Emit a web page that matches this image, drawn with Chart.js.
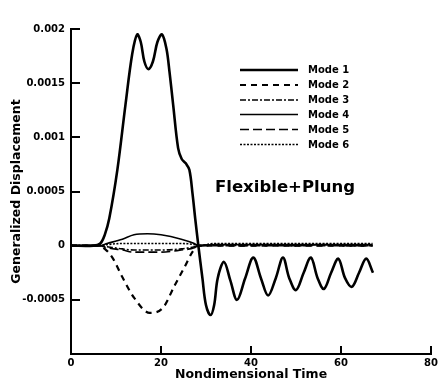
<!DOCTYPE html>
<html><head><meta charset="utf-8">
<script src="https://cdn.jsdelivr.net/npm/chart.js@4.4.0/dist/chart.umd.min.js"></script>
<style>html,body{margin:0;padding:0;background:#fff}</style>
</head><body>
<canvas id="c" width="441" height="383"></canvas>
<script>
// ---- data ----
const modeLabels = ['Mode 1', 'Mode 2', 'Mode 3', 'Mode 4', 'Mode 5', 'Mode 6'];

const mode1T = [0, 5, 6.5, 7.5, 8.5, 10.3, 12.1, 13.6, 14.7, 15.5, 16.3, 17.2, 18.2, 19.2, 20.2, 21.2, 21.9, 22.7, 23.8, 24.6, 25.5, 26.3, 27.0, 27.6, 28.3, 29.2, 30.0, 31.0, 31.8, 32.6, 34.0, 35.4, 36.9, 38.7, 40.5, 42.2, 43.8, 45.5, 47.1, 48.5, 50.0, 51.7, 53.3, 54.8, 56.2, 57.8, 59.4, 60.9, 62.4, 64.0, 65.6, 67.1];
const mode1V = [0, 0, 0.00002, 0.0001, 0.00025, 0.0007, 0.0013, 0.00177, 0.00195, 0.00188, 0.0017, 0.00163, 0.0017, 0.00188, 0.00195, 0.00182, 0.0016, 0.0013, 0.0009, 0.0008, 0.00076, 0.0007, 0.00048, 0.00025, 0, -0.0003, -0.00055, -0.00064, -0.00055, -0.0003, -0.00015, -0.00032, -0.0005, -0.0003, -0.00011, -0.0003, -0.00046, -0.0003, -0.00011, -0.0003, -0.00041, -0.00025, -0.00011, -0.0003, -0.0004, -0.00025, -0.00012, -0.0003, -0.00038, -0.00025, -0.00012, -0.00025];

const mode2T = [0, 6, 7.5, 9.2, 11.4, 14.0, 17.5, 20.5, 23.0, 25.2, 27.1, 28.3, 35, 45, 55, 67];
const mode2V = [0, 0, -0.00003, -0.00011, -0.00029, -0.00048, -0.00062, -0.00057, -0.00037, -0.0002, -0.00005, 0, 0, 0, 0, 0];

const smallT = [0, 6.3, 8, 11.4, 14, 17, 20, 24.5, 27.4, 28.3, 32, 38, 44, 50, 56, 62, 67];
const mode3V = [0, 0, -0.00001, -0.00003, -0.00004, -0.00004, -0.00004, -0.00003, -0.00001, 0, 0.00001, 0, 0.00001, 0, 0.00001, 0, 0];
const mode4V = [0, 0, 0.00002, 0.00006, 0.0001, 0.00011, 0.0001, 0.00006, 0.00002, 0, 0.00001, 0.00001, 0.00001, 0.00001, 0.00001, 0.00001, 0.00001];
const mode5V = [0, 0, -0.00002, -0.00004, -0.00006, -0.00006, -0.00006, -0.00004, -0.00002, 0, 0, 0, 0, 0, 0, 0, 0];
const mode6V = [0, 0, 0.00001, 0.00002, 0.00002, 0.00002, 0.00002, 0.00002, 0.00001, 0, 0.00002, 0.00002, 0.00002, 0.00002, 0.00002, 0.00002, 0.00002];

const xTickValues = [0, 20, 40, 60, 80];
const yTickLabels = ['', '-0.0005', '0', '0.0005', '0.001', '0.0015', '0.002'];
const annotationText = 'Flexible+Plung';

// ---- chart ----
const FONT = 'DejaVu Sans';
Chart.defaults.font.family = FONT;
Chart.defaults.font.weight = 'bold';
Chart.defaults.color = '#000';

function pts(t, v) { return t.map((x, i) => ({x: x, y: v[i]})); }

const styles = [
  {borderWidth: 2.6, borderDash: [], interp: 'default'},
  {borderWidth: 2.2, borderDash: [6, 5], interp: 'monotone'},
  {borderWidth: 1.6, borderDash: [6, 2, 2, 2], interp: 'monotone'},
  {borderWidth: 1.6, borderDash: [], interp: 'monotone'},
  {borderWidth: 1.6, borderDash: [9, 4], interp: 'monotone'},
  {borderWidth: 1.6, borderDash: [2, 1.5], interp: 'monotone'}
];
const series = [pts(mode1T, mode1V), pts(mode2T, mode2V), pts(smallT, mode3V), pts(smallT, mode4V), pts(smallT, mode5V), pts(smallT, mode6V)];

const datasets = series.map((d, i) => ({
  label: modeLabels[i],
  data: d,
  borderColor: '#000',
  backgroundColor: '#000',
  borderWidth: styles[i].borderWidth,
  borderDash: styles[i].borderDash,
  pointRadius: 0,
  fill: false,
  tension: 0.35,
  cubicInterpolationMode: styles[i].interp
})).reverse();

const decor = {
  id: 'decor',
  afterDraw(chart) {
    const ctx = chart.ctx;
    const xs = chart.scales.x, ys = chart.scales.y;
    ctx.save();
    ctx.strokeStyle = '#000';
    ctx.lineWidth = 2;
    ctx.setLineDash([]);
    // inward ticks
    xTickValues.forEach(v => {
      if (v === xs.min) return;
      const px = Math.round(xs.getPixelForValue(v));
      ctx.beginPath(); ctx.moveTo(px, ys.bottom); ctx.lineTo(px, ys.bottom - 8); ctx.stroke();
    });
    ys.ticks.forEach((t, i) => {
      if (i === 0) return;
      const py = Math.round(ys.getPixelForValue(t.value));
      ctx.beginPath(); ctx.moveTo(xs.left, py); ctx.lineTo(xs.left + 9, py); ctx.stroke();
    });
    // legend
    const ordered = chart.data.datasets.slice().reverse();
    const rowY = [70, 85, 100, 114.5, 129.5, 144.5];
    ctx.font = 'bold 10px ' + FONT;
    ctx.fillStyle = '#000';
    ctx.textBaseline = 'middle';
    ctx.textAlign = 'left';
    ordered.forEach((ds, i) => {
      ctx.lineWidth = ds.borderWidth;
      ctx.setLineDash(ds.borderDash || []);
      ctx.beginPath(); ctx.moveTo(240, rowY[i]); ctx.lineTo(298, rowY[i]); ctx.stroke();
      ctx.setLineDash([]);
      ctx.fillText(ds.label, 308, rowY[i] + 0.5);
    });
    // annotation
    ctx.font = 'bold 16.5px ' + FONT;
    ctx.fillText(annotationText, 215, 188);
    ctx.restore();
  }
};

new Chart(document.getElementById('c'), {
  type: 'line',
  data: {datasets: datasets},
  options: {
    responsive: false,
    animation: false,
    devicePixelRatio: 1,
    layout: {padding: {top: 29, right: 5, left: 0, bottom: 0}},
    plugins: {legend: {display: false}, tooltip: {enabled: false}},
    scales: {
      x: {
        type: 'linear', min: 0, max: 80,
        afterBuildTicks(s) { s.ticks = xTickValues.map(v => ({value: v})); },
        afterFit(s) { s.height = 29; },
        grid: {display: false, drawTicks: false},
        border: {display: true, color: '#000', width: 2},
        ticks: {padding: 3, font: {size: 10, weight: 'bold'}, color: '#000', maxRotation: 0},
        title: {display: true, text: 'Nondimensional Time', font: {size: 12.5, weight: 'bold'}, color: '#000', padding: {top: 0, bottom: 0.5}}
      },
      y: {
        type: 'linear', min: -0.001, max: 0.002,
        afterFit(s) { s.width = 71; },
        grid: {display: false, drawTicks: false},
        border: {display: true, color: '#000', width: 2},
        ticks: {stepSize: 0.0005, padding: 6, font: {size: 10, weight: 'bold'}, color: '#000',
          callback: (v, i) => yTickLabels[i]},
        title: {display: true, text: 'Generalized Displacement', font: {size: 12.5, weight: 'bold'}, color: '#000', padding: {top: 9.5, bottom: 0}}
      }
    }
  },
  plugins: [decor]
});
</script>
</body></html>
